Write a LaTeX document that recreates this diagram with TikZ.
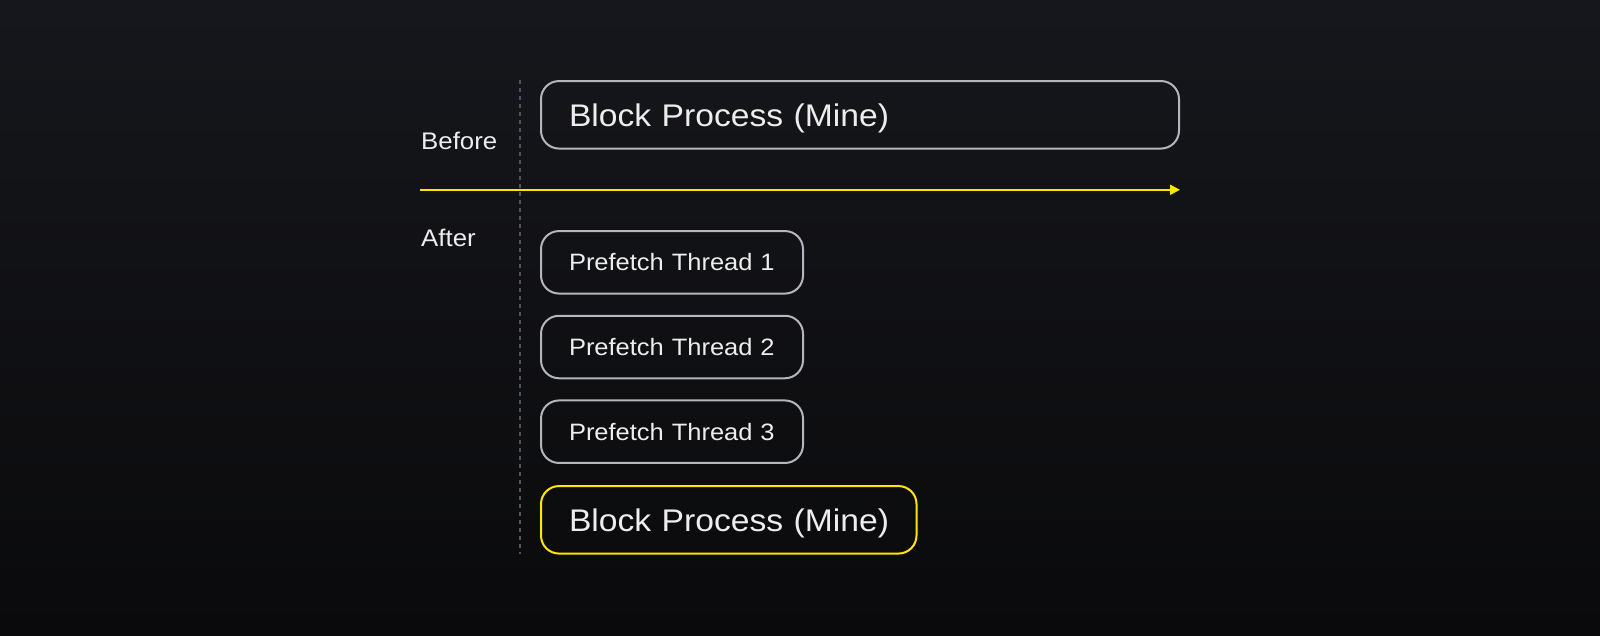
\documentclass[tikz,border=0pt]{standalone}
\usepackage{fontspec}
\setmainfont{Liberation Sans}[FakeStretch=1.075]
\usetikzlibrary{arrows.meta}
\definecolor{bgtop}{HTML}{16171C}
\definecolor{bgbot}{HTML}{0A0A0C}
\definecolor{boxgrey}{HTML}{B3B6BC}
\definecolor{txt}{HTML}{EDEDED}
\definecolor{accent}{HTML}{FFE600}
\definecolor{dashgrey}{HTML}{505560}
\tikzset{
  box/.style={draw=boxgrey, line width=2pt, rectangle, rounded corners=18pt,
    inner xsep=28pt, inner ysep=0pt, outer sep=0pt, align=left, text=txt},
  bigtext/.style={font=\fontsize{31.3}{36}\selectfont, text height=22.5pt, text depth=0pt},
  smalltext/.style={font=\fontsize{23.7}{28}\selectfont, text height=17pt, text depth=0pt},
  label/.style={text=txt, font=\fontsize{24}{28}\selectfont, inner sep=0pt, anchor=base west},
  timeline/.style={draw=accent, line width=2pt, -{Triangle[length=10pt,width=10pt]}},
  divider/.style={draw=dashgrey, line width=1.5pt, dash pattern=on 4pt off 4pt}
}
\begin{document}
\begin{tikzpicture}[x=1pt,y=-1pt]
\shade[top color=bgtop, bottom color=bgbot] (0,0) rectangle (1600,635);
\useasboundingbox (0,0) rectangle (1600,635);

\coordinate (dtop) at (520,80);
\coordinate (dbot) at (520,554);
\draw[divider] (dtop) -- (dbot);

\node[label] (before) at (421,149.3) {Before};
\node[label] (after) at (421,246) {After};

\coordinate (astart) at (420,189.8);
\coordinate (aend) at (1180,189.8);
\draw[timeline] (astart) -- (aend);

\node[box, bigtext, minimum width=638pt, minimum height=67.5pt, text width=582pt]
  (before box) at (860,114.8) {\mbox{Block Process (Mine)}};

\node[box, smalltext, minimum width=262pt, minimum height=62.5pt, text width=206pt]
  (t1) at (672,262.3) {\mbox{Prefetch Thread 1}};
\node[box, smalltext, minimum width=262pt, minimum height=62.5pt, text width=206pt]
  (t2) at (672,347) {\mbox{Prefetch Thread 2}};
\node[box, smalltext, minimum width=262pt, minimum height=62.5pt, text width=206pt]
  (t3) at (672,431.7) {\mbox{Prefetch Thread 3}};

\node[box, bigtext, draw=accent, minimum width=375.5pt, minimum height=67.5pt, text width=319.5pt]
  (after box) at (728.75,519.8) {\mbox{Block Process (Mine)}};
\end{tikzpicture}
\end{document}
